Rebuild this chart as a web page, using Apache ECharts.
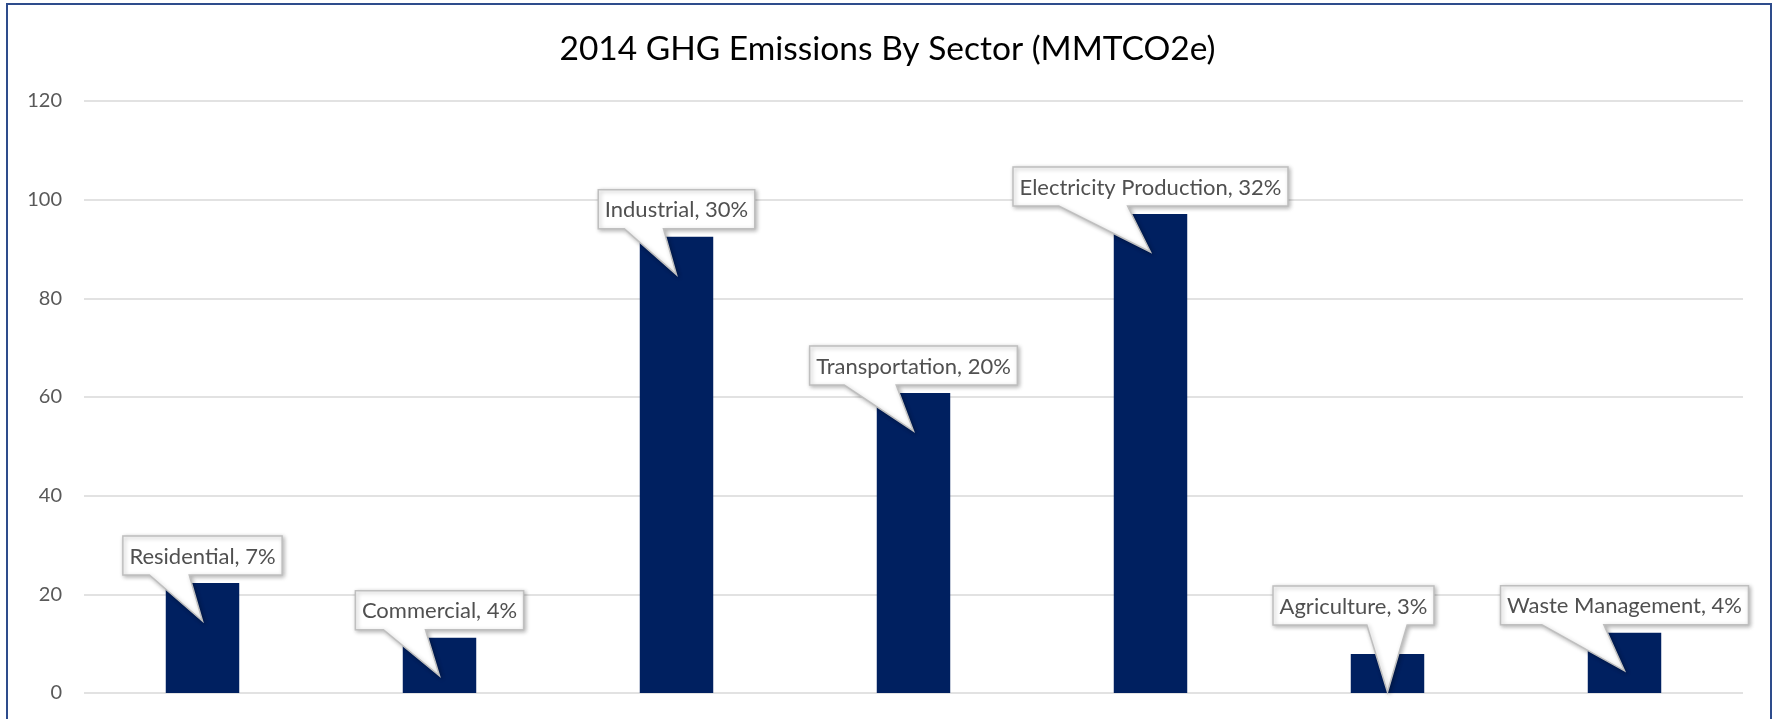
<!DOCTYPE html>
<html>
<head>
<meta charset="utf-8">
<style>
  html, body { margin: 0; padding: 0; background: #ffffff; }
  #chart { width: 1775px; height: 719px; }
</style>
<script src="https://cdn.jsdelivr.net/npm/echarts@6/dist/echarts.min.js"></script>
</head>
<body>
<div id="chart"></div>
<script>
// ---- data ----
const titleText = '2014 GHG Emissions By Sector (MMTCO2e)';
const categories = ['Residential', 'Commercial', 'Industrial', 'Transportation', 'Electricity Production', 'Agriculture', 'Waste Management'];
const emissions = [22.3, 11.2, 92.5, 60.8, 97.1, 7.9, 12.2];
const sharePct = [7, 4, 30, 20, 32, 3, 4];
const yMin = 0;
const yMax = 120;
const yInterval = 20;

// ---- layout / style config ----
const LABEL_FONT = '22px Lato';
const calloutShift = { 'Agriculture': { dx: -34, dy: -21 } };

const measureCtx = document.createElement('canvas').getContext('2d');
function textWidth(t) {
  measureCtx.font = LABEL_FONT;
  return measureCtx.measureText(t).width;
}

const chart = echarts.init(document.getElementById('chart'), null, { renderer: 'canvas' });

const option = {
  backgroundColor: '#ffffff',
  animation: false,
  title: {
    text: titleText,
    left: 'center',
    top: 27,
    textStyle: { fontFamily: 'Lato', fontSize: 33.5, fontWeight: 'normal', color: '#000000' }
  },
  graphic: [{
    type: 'rect',
    shape: { x: 7, y: 4, width: 1764, height: 800 },
    style: { fill: 'none', stroke: '#2E4C8C', lineWidth: 2 },
    silent: true,
    z: 100
  }],
  grid: { left: 84, right: 32, top: 101, bottom: 26, containLabel: false },
  xAxis: {
    type: 'category',
    data: categories,
    axisLine: { show: false },
    axisTick: { show: false },
    axisLabel: { show: false },
    splitLine: { show: false }
  },
  yAxis: {
    type: 'value',
    min: yMin,
    max: yMax,
    interval: yInterval,
    axisLine: { show: false },
    axisTick: { show: false },
    axisLabel: { fontFamily: 'Lato', fontSize: 20, color: '#595959', margin: 22 },
    splitLine: { lineStyle: { color: '#D9D9D9', width: 1.5 } }
  },
  series: [
    {
      type: 'bar',
      data: emissions,
      barWidth: '31%',
      itemStyle: { color: '#002060' },
      silent: true
    },
    {
      type: 'custom',
      clip: false,
      z: 10,
      silent: true,
      data: emissions.map((v, i) => [i, v]),
      renderItem: function (params, api) {
        const i = api.value(0);
        const v = api.value(1);
        const topPt = api.coord([i, v]);
        const zeroPt = api.coord([i, 0]);
        const text = categories[i] + ', ' + sharePct[i] + '%';
        const w = textWidth(text) + 13;
        const h = 39;
        const shift = calloutShift[categories[i]] || { dx: 0, dy: 0 };
        const cx = topPt[0] + shift.dx;
        const boxL = cx - w / 2;
        const boxR = boxL + w;
        const boxB = topPt[1] - 8 + shift.dy;
        const boxT = boxB - h;
        const tip = [topPt[0], Math.min(topPt[1] + 38, zeroPt[1])];
        let baseL, baseR;
        if (tip[0] > cx + 2) {
          baseL = boxL + w * 7 / 12;
          baseR = boxL + w * 10 / 12;
        } else {
          baseL = boxL + w * 2 / 12;
          baseR = boxL + w * 5 / 12;
        }
        const pts = [
          [boxL, boxT], [boxR, boxT], [boxR, boxB],
          [baseR, boxB], tip, [baseL, boxB], [boxL, boxB]
        ];
        return {
          type: 'group',
          children: [
            {
              type: 'polygon',
              shape: { points: pts },
              style: {
                fill: '#ffffff',
                stroke: '#BFBFBF',
                lineWidth: 1.5,
                shadowBlur: 4,
                shadowColor: 'rgba(0,0,0,0.28)',
                shadowOffsetX: 1.5,
                shadowOffsetY: 1.5
              }
            },
            {
              type: 'text',
              style: {
                text: text,
                x: cx,
                y: boxT + h / 2 + 1,
                align: 'center',
                verticalAlign: 'middle',
                fill: '#505050',
                font: LABEL_FONT
              }
            }
          ]
        };
      }
    }
  ]
};

chart.setOption(option);
</script>
</body>
</html>
